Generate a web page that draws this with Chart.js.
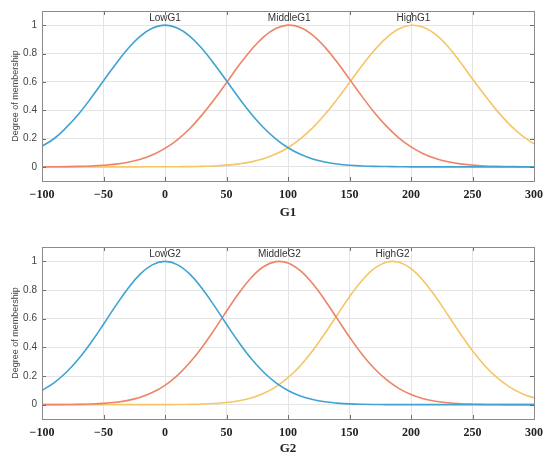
<!DOCTYPE html>
<html>
<head>
<meta charset="utf-8">
<script src="https://cdn.jsdelivr.net/npm/chart.js@4"></script>
<style>
html,body{margin:0;padding:0;background:#fff;}
.box{position:absolute;left:0;width:550px;height:229px;}
</style>
</head>
<body>
<div class="box" style="top:0"><canvas id="g1"></canvas></div>
<div class="box" style="top:229px"><canvas id="g2"></canvas></div>
<script>
// input values (shared x grid)
const xValues = [-100,-90,-80,-70,-60,-50,-40,-30,-20,-10,0,10,20,30,40,50,60,70,80,90,
  100,110,120,130,140,150,160,170,180,190,200,210,220,230,240,250,260,270,280,290,300];

// G1 membership functions
const g1Names = ['LowG1', 'MiddleG1', 'HighG1'];
const g1Peaks = [0, 101, 202];
const g1Low = [0.145,0.2,0.28,0.375,0.487,0.607,0.726,0.835,0.923,0.980,
  1.0,
  0.980,0.923,0.835,0.726,0.607,0.487,0.375,0.278,0.198,0.135,0.089,0.056,0.034,0.020,0.011,0.006,0.003,0.002,0.001,
  0,0,0,0,0,0,0,0,0,0,0];
const g1Middle = [0.0003,0.0007,0.0014,0.003,0.006,0.011,0.019,0.032,0.053,0.085,
  0.130,0.191,0.269,0.365,0.475,0.594,0.715,0.825,0.916,0.976,
  1.0,0.984,0.930,0.845,0.738,0.619,0.499,0.386,0.287,0.205,
  0.141,0.093,0.059,0.036,0.021,0.012,0.006,0.003,0.002,0.001,0.0004];
const g1High = [0,0,0,0,0,0,0,0,0,0.0002,
  0.0004,0.0008,0.0017,0.0034,0.0064,0.012,0.021,0.035,0.057,0.090,
  0.135,0.197,0.275,0.369,0.478,0.595,0.712,0.821,0.911,0.973,
  0.999,0.985,0.935,0.850,0.740,0.620,0.505,0.395,0.300,0.222,0.162];

// G2 membership functions
const g2Names = ['LowG2', 'MiddleG2', 'HighG2'];
const g2Peaks = [0, 93, 185];
const g2Low = [0.099,0.154,0.228,0.322,0.435,0.561,0.691,0.812,0.912,0.977,
  1.0,
  0.977,0.912,0.812,0.691,0.561,0.435,0.322,0.228,0.154,0.099,0.061,0.036,0.020,0.011,0.0055,0.0027,0.0013,0.0006,0.0002,
  0,0,0,0,0,0,0,0,0,0,0];
const g2Middle = [0.0002,0.0004,0.001,0.0021,0.0045,0.0088,0.0167,0.030,0.052,0.086,
  0.135,0.203,0.292,0.399,0.522,0.652,0.777,0.885,0.962,0.998,
  0.989,0.935,0.845,0.729,0.600,0.472,0.354,0.254,0.174,0.114,
  0.071,0.042,0.024,0.013,0.0067,0.0033,0.0016,0.0007,0.0003,0.0001,0];
const g2High = [0,0,0,0,0,0,0,0,0.0001,0.0002,
  0.0004,0.0008,0.0019,0.0039,0.0077,0.0148,0.027,0.047,0.078,0.124,
  0.188,0.272,0.376,0.497,0.626,0.753,0.865,0.949,0.994,0.994,
  0.949,0.865,0.753,0.626,0.497,0.376,0.272,0.188,0.124,0.078,0.047];

const xTicks = [-100,-50,0,50,100,150,200,250,300];
const yTicks = [0,0.2,0.4,0.6,0.8,1];

const lineColors = ['#3ea3d2', '#ee8466', '#f5c566'];

// frame, inside tick marks and the mf names over each peak
const mfPlugin = {
  id: 'mfPlugin',
  afterDraw(chart) {
    const {ctx, chartArea: a, scales: {x, y}} = chart;
    ctx.save();
    ctx.strokeStyle = '#6e6e6e';
    ctx.lineWidth = 1;
    ctx.beginPath();
    x.ticks.forEach(t => {
      const px = Math.round(x.getPixelForValue(t.value)) + 0.5;
      ctx.moveTo(px, a.top); ctx.lineTo(px, a.top + 4);
      ctx.moveTo(px, a.bottom); ctx.lineTo(px, a.bottom - 4);
    });
    y.ticks.forEach(t => {
      const py = Math.round(y.getPixelForValue(t.value)) + 0.5;
      ctx.moveTo(a.left, py); ctx.lineTo(a.left + 4, py);
      ctx.moveTo(a.right, py); ctx.lineTo(a.right - 4, py);
    });
    ctx.stroke();
    ctx.strokeStyle = '#8a8a8a';
    ctx.strokeRect(Math.round(a.left) + 0.5, Math.round(a.top) + 0.5,
      Math.round(a.right - a.left), Math.round(a.bottom - a.top));

    const peaks = chart.options.plugins.mfPlugin.peaks;
    ctx.fillStyle = '#333';
    ctx.font = '10px "Liberation Sans", Arial, sans-serif';
    ctx.textAlign = 'center';
    ctx.textBaseline = 'bottom';
    chart.data.datasets.forEach((ds, i) => {
      ctx.fillText(ds.label, x.getPixelForValue(peaks[i]), y.getPixelForValue(1) - 2);
    });
    ctx.restore();
  }
};

function makeChart(id, names, series, peaks, title, padTop, axisHeight, titlePad) {
  return new Chart(document.getElementById(id), {
    type: 'line',
    data: {
      datasets: series.map((vals, i) => ({
        label: names[i],
        data: vals.map((v, j) => ({x: xValues[j], y: v})),
        borderColor: lineColors[i],
        borderWidth: 1.6,
        pointRadius: 0,
        fill: false,
        tension: 0.4
      }))
    },
    options: {
      responsive: true,
      maintainAspectRatio: false,
      animation: false,
      layout: {padding: {left: 0, right: 16, top: padTop, bottom: 0}},
      plugins: {
        legend: {display: false},
        tooltip: {enabled: false},
        mfPlugin: {peaks: peaks}
      },
      scales: {
        x: {
          type: 'linear',
          min: -100, max: 300,
          afterBuildTicks: s => { s.ticks = xTicks.map(v => ({value: v})); },
          afterFit: s => { s.height = axisHeight; },
          grid: {color: '#e4e4e4', drawTicks: false},
          border: {display: false},
          ticks: {
            padding: 7,
            color: '#222',
            font: {family: '"Liberation Serif", serif', size: 12, weight: 'bold'},
            callback: v => String(v).replace('-', '\u2212')
          },
          title: {
            display: true,
            text: title,
            color: '#222',
            font: {family: '"Liberation Serif", serif', size: 13, weight: 'bold'},
            padding: {top: 0, bottom: titlePad}
          }
        },
        y: {
          min: -0.1, max: 1.1,
          afterBuildTicks: s => { s.ticks = yTicks.map(v => ({value: v})); },
          afterFit: s => { s.width = 42; },
          grid: {color: '#e4e4e4', drawTicks: false},
          border: {display: false},
          ticks: {
            padding: 5,
            color: '#444',
            font: {family: '"Liberation Sans", Arial, sans-serif', size: 10},
            callback: v => String(v)
          },
          title: {
            display: true,
            text: 'Degree of membership',
            color: '#444',
            font: {family: '"Liberation Sans", Arial, sans-serif', size: 9},
            padding: {top: 10, bottom: 0}
          }
        }
      }
    },
    plugins: [mfPlugin]
  });
}

makeChart('g1', g1Names, [g1Low, g1Middle, g1High], g1Peaks, 'G1', 8, 48, 9);
makeChart('g2', g2Names, [g2Low, g2Middle, g2High], g2Peaks, 'G2', 18, 39, 2);
</script>
</body>
</html>
